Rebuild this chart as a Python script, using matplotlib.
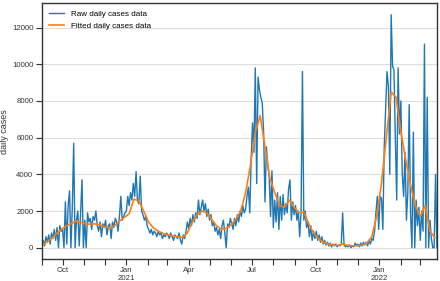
import numpy as np
import pandas as pd
import matplotlib
matplotlib.use("Agg")
import matplotlib.pyplot as plt
import matplotlib.dates as mdates
from matplotlib.ticker import FuncFormatter

# raw daily cases, read every 2nd day starting 2020-09-01
raw_cases = [
    200, 400, 100, 600, 300, 700, 200, 800, 500, 1000, 400, 1100, 0, 1200, 900,
    1000, 0, 2500, 200, 2300, 3100, 0, 2200, 5700, 0, 1500, 2000, 100, 1900, 3700,
    0, 1500, 0, 1900, 1400, 1600, 1000, 1700, 1500,
    2000, 1200, 900, 1400, 600, 1300, 1100, 1500, 700, 1200, 1300, 500, 1400, 1100,
    1600, 1400, 900, 1700, 2800, 1500, 1700, 1900,
    2000, 2800, 2300, 3000, 2600, 3500, 2800, 4150, 2600, 2400, 3900, 2000, 1800, 1500,
    1700, 1200, 1000, 800, 1000, 700, 900, 800, 600, 900, 700, 800, 500, 700, 600, 800,
    700, 500, 800, 600, 400, 700, 600, 500, 800, 400, 200, 700, 500, 900, 1400, 1000,
    1600, 1200, 1800, 1400, 1900, 1600, 2600, 1800, 2200, 2600, 2000, 2400, 1700, 2100,
    1500, 1800, 1200, 1400, 900, 1100, 700, 1000, 500, 1200, 1500, 800, 0, 1300, 1100, 1600,
    1300, 1000, 1600, 1200, 1800, 1400, 2000, 1700, 2300, 1900, 2100, 2800, 3300, 1900, 4800,
    6800, 5200, 9800, 3500, 9300, 8600, 8200, 7900, 6300, 2500, 5500, 4500, 3900, 1700,
    4200, 1100,
    2600, 1400, 3000, 1000, 2800, 1500, 2900, 1800, 2400, 1900, 3200, 3700, 1500, 2500, 1800,
    2300, 1500, 2000, 600, 1900, 9600, 1500, 2000, 1100, 1400, 600, 1200, 400, 900, 500,
    900, 400, 700, 300, 600, 200, 400, 150, 300, 100, 250, 50, 200, 100, 200, 50, 150, 100,
    200, 1900, 150, 50, 100, 50, 150, 0, 100, 50, 250, 100, 200, 50, 250, 100, 300, 150,
    300, 100, 400, 200, 500,
    400, 900, 1900, 2800, 1000, 2800, 2700, 1000, 5500, 7500, 9600, 8800, 4000, 12700,
    9900, 9700, 6000, 2600, 9800, 6200, 8000, 4000, 2800, 5200, 1500, 3000, 7800, 1800,
    0, 6300, 0, 2600, 1200, 2200, 400, 2000, 900, 11100, 0, 8200, 0, 1500, 500, 0, 0,
    4000, 0,
]

# fitted curve, read weekly starting 2020-09-01
fitted_cases = [
    130, 300, 500, 750, 1000, 1180, 1300, 1450, 1400, 1300,
    1280, 1300, 1250, 1120, 1080, 1200, 1450, 1650, 1850, 2650,
    2550, 2000, 1400, 1080, 900, 780, 700, 650, 600, 560,
    800, 1400, 1800, 2000, 1900, 1550, 1200, 1000, 1050, 1250,
    1550, 2000, 3000, 4500, 6300, 7200, 5500, 3800, 3000, 2300,
    2200, 2600, 2200, 1900, 1950, 1300, 800, 500, 300, 200,
    150, 120, 200, 130, 100, 110, 130, 250, 600, 1700,
    3500, 6000, 8500, 8200, 6300, 4800, 3400, 2300, 1700, 2300,
    900, 550,
]

raw_dates = pd.date_range("2020-09-01", periods=len(raw_cases), freq="2D")
fit_dates = pd.date_range("2020-09-01", periods=len(fitted_cases), freq="7D")

plt.rcParams['font.family'] = ['Liberation Sans', 'DejaVu Sans']

fig = plt.figure(figsize=(4.4, 2.81), dpi=100)
ax = fig.add_axes([0.095, 0.077, 0.898, 0.912])

ax.plot(raw_dates, raw_cases, color="#1f77b4", lw=1.0, label="Raw daily cases data")
ax.plot(fit_dates, fitted_cases, color="#ff7f0e", lw=1.2, label="Fitted daily cases data")

ax.set_xlim(raw_dates[0], raw_dates[-1])
ax.set_ylabel("daily cases", fontsize=6.5, color="#333333")
ax.yaxis.set_label_coords(-0.083, 0.5)

ax.xaxis.set_major_locator(mdates.MonthLocator(bymonth=[1, 4, 7, 10]))
ax.xaxis.set_minor_locator(mdates.MonthLocator())

def fmt(x, pos):
    d = mdates.num2date(x)
    if d.month == 1:
        return d.strftime("%b") + "\n" + str(d.year)
    return d.strftime("%b")

ax.xaxis.set_major_formatter(FuncFormatter(fmt))
ax.set_yticks([0, 2000, 4000, 6000, 8000, 10000, 12000])

ax.grid(axis="y", color="#dddddd", lw=0.8)
ax.set_axisbelow(True)
ax.tick_params(axis="both", which="both", labelsize=5.6, colors="#333333",
               length=4, width=0.8, direction="out")
ax.tick_params(axis="x", which="major", pad=1.5)
ax.tick_params(axis="y", which="major", pad=2)
for s in ax.spines.values():
    s.set_color("#333333")
    s.set_linewidth(1.0)

ax.legend(loc="upper left", frameon=False, fontsize=5.8, handlelength=1.9,
          borderaxespad=0.5, labelspacing=0.55)

fig.savefig("out.png", dpi=100)
